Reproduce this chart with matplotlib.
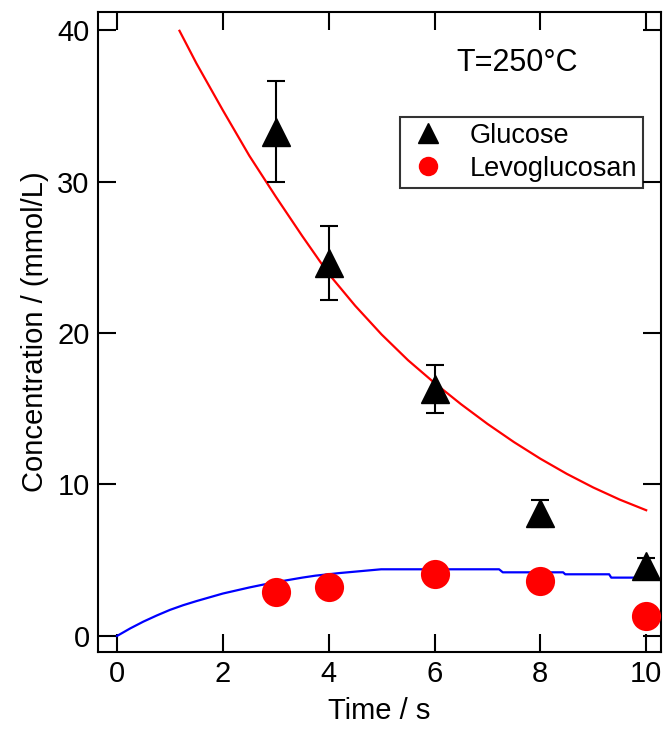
import matplotlib
matplotlib.use("Agg")
import matplotlib.pyplot as plt
from matplotlib.lines import Line2D

plt.rcParams['font.family'] = ['Liberation Sans', 'DejaVu Sans']

# Glucose measurements
glc_t = [3, 4, 6, 8, 10]
glc_c = [33.3, 24.6, 16.3, 8.1, 4.6]
glc_err = [3.35, 2.45, 1.6, 0.9, 0.55]

# Levoglucosan measurements
lev_t = [3, 4, 6, 8, 10]
lev_c = [2.9, 3.2, 4.1, 3.6, 1.3]

# Model curve for glucose (red)
fit_glc_t = [1.18, 1.5, 2.0, 2.5, 3.0, 3.5, 4.0, 4.5, 5.0, 5.5, 6.0, 6.5,
             7.0, 7.5, 8.0, 8.5, 9.0, 9.5, 10.0]
fit_glc_c = [39.95, 37.8, 34.7, 31.7, 29.0, 26.4, 23.9, 21.8, 19.9, 18.2,
             16.7, 15.3, 14.0, 12.8, 11.7, 10.7, 9.8, 9.0, 8.3]

# Model curve for levoglucosan (blue)
fit_lev_t = [0.0, 0.25, 0.5, 0.75, 1.0, 1.25, 1.5, 1.75, 2.0, 2.25, 2.5, 2.75,
             3.0, 3.25, 3.5, 3.75, 4.2, 4.99, 7.22, 7.29, 8.43, 8.47, 9.30,
             9.34, 10.0]
fit_lev_c = [0.0, 0.5, 0.95, 1.35, 1.72, 2.03, 2.3, 2.55, 2.8, 3.0, 3.2, 3.38,
             3.55, 3.7, 3.85, 3.98, 4.15, 4.40, 4.40, 4.20, 4.20, 4.07, 4.07,
             3.85, 3.85]

x_ticks = [0, 2, 4, 6, 8, 10]
y_ticks = [0, 10, 20, 30, 40]

fig = plt.figure(figsize=(6.67, 7.42), dpi=100)
ax = fig.add_axes([98/667, 1-652/742, (661-98)/667, (652-12)/742])

ax.plot(fit_glc_t, fit_glc_c, color='#ff0000', lw=1.6, zorder=2)
ax.plot(fit_lev_t, fit_lev_c, color='#0000ff', lw=1.6, zorder=2)

ax.errorbar(glc_t, glc_c, yerr=glc_err, fmt='none', ecolor='black',
            elinewidth=1.5, capsize=6.5, capthick=1.5, zorder=3)
ax.plot(glc_t, glc_c, linestyle='none', marker='^', ms=20, color='black',
        zorder=4)
ax.plot(lev_t, lev_c, linestyle='none', marker='o', ms=21, color='#ff0000',
        mec='none', zorder=4)

ax.set_xlim(-0.36, 10.28)
ax.set_ylim(-1.06, 41.19)
ax.set_xticks(x_ticks)
ax.set_yticks(y_ticks)
ax.tick_params(direction='in', length=13, width=1.5, labelsize=21,
               top=True, right=True, pad=6)
for s in ax.spines.values():
    s.set_linewidth(1.5)

ax.set_xlabel('Time / s', fontsize=21, labelpad=6)
ax.set_ylabel('Concentration / (mmol/L)', fontsize=21, labelpad=6)

ax.text(6.41, 37.3, 'T=250°C', fontsize=22, ha='left', va='baseline')

handles = [Line2D([], [], linestyle='none', marker='^', ms=14, color='black'),
           Line2D([], [], linestyle='none', marker='o', ms=14, color='#ff0000',
                  mec='none')]
leg = fig.legend(handles, ['Glucose', 'Levoglucosan'], loc='upper left',
                 bbox_to_anchor=(400/667, 1-117/742), fontsize=19.5,
                 frameon=True, fancybox=False, edgecolor='black',
                 borderpad=0.22, labelspacing=0.25, handletextpad=0.75,
                 handlelength=1.6, borderaxespad=0)
leg.get_frame().set_linewidth(1.5)

fig.savefig('out.png', dpi=100)
